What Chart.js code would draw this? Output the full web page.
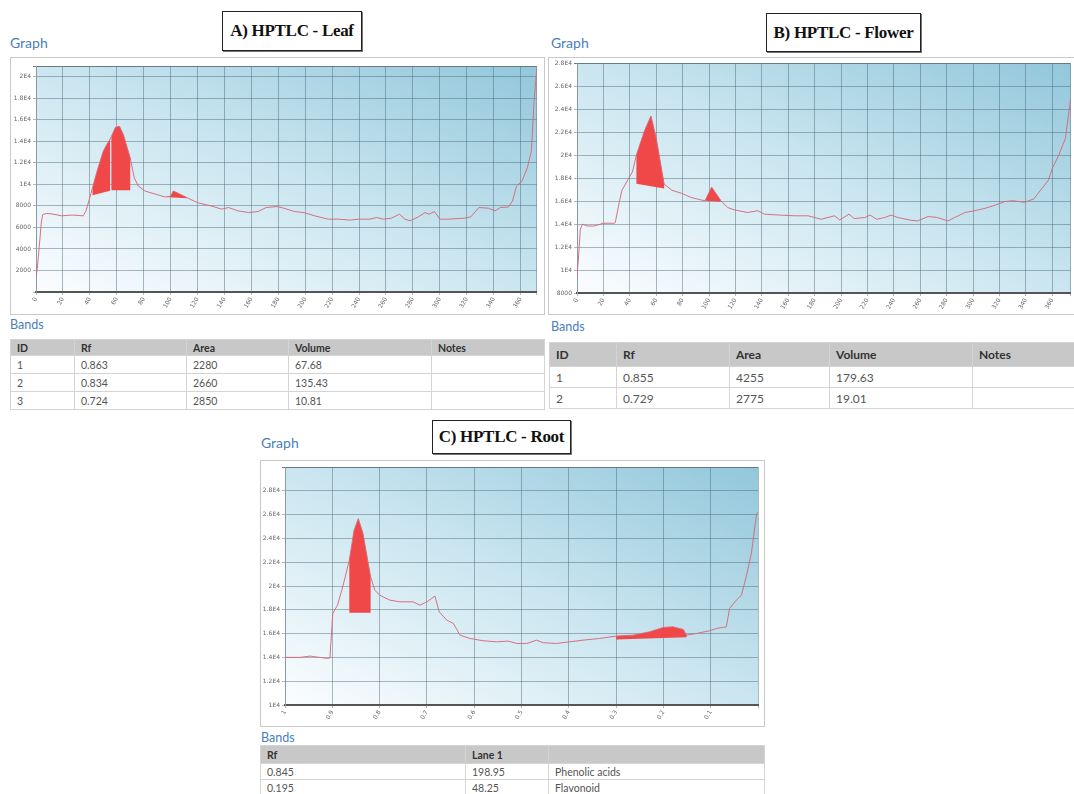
<!DOCTYPE html>
<html>
<head>
<meta charset="utf-8">
<script src="https://cdn.jsdelivr.net/npm/chart.js@4.4.0/dist/chart.umd.min.js"></script>
<style>
  html, body { margin: 0; padding: 0; background: #fff; }
  body { width: 1074px; height: 794px; overflow: hidden; position: relative; font-family: Lato, 'Open Sans', sans-serif; }
  .title { position: absolute; box-sizing: border-box; border: 1px solid #222; box-shadow: 1px 1px 0 #777;
    background: #fff; font-family: 'Liberation Serif', serif; font-weight: bold; font-size: 17px; color: #111;
    display: flex; align-items: center; justify-content: center; letter-spacing: -0.3px; }
  .lbl { position: absolute; color: #4a7ebb; font-size: 14px; }
  .lbl.small { font-size: 12.5px; }
  .box { position: absolute; box-sizing: border-box; border: 1px solid #c9c9c9; background: #fff; }
  table { position: absolute; border-collapse: collapse; table-layout: fixed; font-size: 10.5px; color: #555; }
  th { background: #c8c8c8; color: #333; text-align: left; font-weight: bold; }
  td, th { border: 1px solid #d4d4d4; padding: 0 6px; white-space: nowrap; overflow: hidden; }
</style>
</head>
<body>

<div class="title" style="left:222px;top:11px;width:140px;height:40px">A) HPTLC - Leaf</div>
<div class="title" style="left:766px;top:13px;width:155px;height:39px">B) HPTLC - Flower</div>
<div class="title" style="left:432px;top:420px;width:139px;height:34px">C) HPTLC - Root</div>

<div class="lbl" style="left:10px;top:34px">Graph</div>
<div class="lbl" style="left:551px;top:34px">Graph</div>
<div class="lbl" style="left:261px;top:434px">Graph</div>

<div class="box" style="left:10px;top:57px;width:535px;height:258px"><canvas id="leaf"></canvas></div>
<div class="box" style="left:548px;top:57px;width:530px;height:258px;border-right:none"><canvas id="flower"></canvas></div>
<div class="box" style="left:260px;top:460px;width:505px;height:267px"><canvas id="root"></canvas></div>

<div class="lbl small" style="left:10px;top:317px">Bands</div>
<div class="lbl small" style="left:551px;top:319px">Bands</div>
<div class="lbl small" style="left:261px;top:730px">Bands</div>

<table id="leafTable" style="left:10px;top:339px;width:535px"></table>
<table id="flowerTable" style="left:549px;top:342px;width:530px;font-size:12px"></table>
<table id="rootTable" style="left:260px;top:745px;width:505px"></table>

<script>
// ---- Leaf (x = position, y = intensity)
const leafX = [0, 1, 4, 5, 8, 12, 19, 27, 35, 37, 40, 42, 46, 50, 53, 55, 56, 59, 62, 65, 68, 70, 73, 76, 81, 89, 96, 100, 102, 106, 112, 120, 130, 138, 143, 150, 158, 165, 171, 179, 184, 192, 199, 207, 217, 225, 233, 240, 248, 253, 258, 264, 270, 274, 278, 284, 289, 292, 296, 300, 307, 318, 323, 329, 336, 341, 345, 351, 354, 357, 361, 365, 368, 370, 372];
const leafY = [1400, 2200, 6500, 7200, 7300, 7250, 7080, 7150, 7080, 7500, 8770, 9700, 11500, 13080, 13800, 14200, 14450, 15300, 15400, 14600, 13300, 12460, 10600, 9850, 9380, 9080, 8830, 8900, 9380, 9150, 8770, 8300, 8000, 7700, 7850, 7540, 7380, 7480, 7850, 7940, 7790, 7480, 7380, 7080, 6770, 6770, 6680, 6770, 6770, 6920, 6770, 6860, 7230, 6770, 6620, 6980, 7380, 7230, 7480, 6770, 6770, 6860, 6980, 7850, 7790, 7540, 7850, 7900, 8460, 9850, 10300, 11540, 13080, 17700, 20770];
// bands: [from, to, baseline at from, baseline at to]
const leafBands = [[42, 55, 9000, 9400], [56, 70, 9450, 9450], [96, 112, 8830, 8700]];
const leafXTicks = [0, 20, 40, 60, 80, 100, 120, 140, 160, 180, 200, 220, 240, 260, 280, 300, 320, 340, 360];
const leafYTicks = [2000, 4000, 6000, 8000, 10000, 12000, 14000, 16000, 18000, 20000];
const leafRows = [['1', '0.863', '2280', '67.68', ''], ['2', '0.834', '2660', '135.43', ''], ['3', '0.724', '2850', '10.81', '']];

// ---- Flower
const flowerX = [0, 1, 2.5, 4, 8, 13, 20, 28, 29, 32, 34, 39, 42, 45, 51, 56, 60, 63, 66, 72, 79, 86, 94, 97, 102, 109, 114, 119, 129, 137, 142, 154, 165, 175, 180, 185, 195, 199, 206, 210, 218, 222, 227, 233, 238, 243, 253, 258, 266, 273, 281, 286, 294, 301, 309, 317, 324, 330, 339, 346, 352, 357, 360, 365, 370, 374];
const flowerY = [9600, 10800, 13550, 14000, 13840, 13840, 14080, 14080, 14140, 15900, 16940, 17970, 18560, 20040, 22100, 23430, 21500, 19500, 17500, 16950, 16700, 16350, 16110, 16050, 17230, 16050, 15460, 15250, 15020, 15170, 14870, 14790, 14730, 14730, 14580, 14430, 14730, 14370, 14870, 14490, 14580, 14790, 14430, 14580, 14790, 14580, 14340, 14280, 14670, 14580, 14280, 14580, 15020, 15170, 15380, 15670, 15970, 16050, 15900, 16200, 17090, 17820, 18860, 20040, 21510, 25000];
const flowerBands = [[45, 66, 17530, 17100], [97, 109, 16050, 15950]];
const flowerXTicks = leafXTicks;
const flowerYTicks = [8000, 10000, 12000, 14000, 16000, 18000, 20000, 22000, 24000, 26000, 28000];
const flowerRows = [['1', '0.855', '4255', '179.63', ''], ['2', '0.729', '2775', '19.01', '']];

// ---- Root (x = Rf, drawn from 1 down to 0)
const rootRf = [1.0, 0.968, 0.947, 0.912, 0.905, 0.899, 0.889, 0.877, 0.864, 0.854, 0.845, 0.835, 0.824, 0.819, 0.81, 0.8, 0.778, 0.757, 0.729, 0.715, 0.7, 0.69, 0.683, 0.674, 0.658, 0.644, 0.63, 0.609, 0.581, 0.553, 0.528, 0.51, 0.489, 0.468, 0.454, 0.426, 0.398, 0.37, 0.335, 0.3, 0.264, 0.229, 0.2, 0.18, 0.158, 0.151, 0.13, 0.102, 0.088, 0.067, 0.06, 0.046, 0.035, 0.025, 0.014, 0.003, 0];
const rootY = [14000, 14000, 14110, 13920, 13950, 17690, 18390, 20070, 22170, 24680, 25660, 24400, 21890, 20770, 19650, 19230, 18810, 18670, 18670, 18390, 18670, 18950, 19150, 17830, 17130, 16850, 15870, 15590, 15400, 15310, 15370, 15170, 15170, 15450, 15230, 15170, 15310, 15450, 15590, 15790, 15870, 16150, 16520, 16570, 16350, 15870, 16010, 16240, 16430, 16570, 18110, 18810, 19230, 20770, 22730, 26080, 26200];
const rootBands = [[0.864, 0.819, 17750, 17750], [0.3, 0.151, 15500, 15700]];
const rootXTicks = [1, 0.9, 0.8, 0.7, 0.6, 0.5, 0.4, 0.3, 0.2, 0.1];
const rootYTicks = [10000, 12000, 14000, 16000, 18000, 20000, 22000, 24000, 26000, 28000];
const rootHead = ['Rf', 'Lane 1', ''];
const rootRows = [['0.845', '198.95', 'Phenolic acids'], ['0.195', '48.25', 'Flavonoid']];

function fmtE(v) {
  return v >= 10000 ? (Math.round(v / 1000) / 10) + 'E4' : String(v);
}

function pick(list, v, fmt) {
  const hit = list.find(t => Math.abs(t - v) < 1e-6);
  return hit === undefined ? '' : fmt(hit);
}

// grid ticks = the labelled values plus both ends of the axis
function tickSet(min, max, labels) {
  const vals = [min, max];
  labels.forEach(v => { if (!vals.some(u => Math.abs(u - v) < 1e-6)) vals.push(v); });
  return vals.sort((a, b) => a - b).map(v => ({ value: v }));
}

function bandShape(xs, ys, band) {
  const [from, to, baseFrom, baseTo] = band;
  const lo = Math.min(from, to), hi = Math.max(from, to);
  const pts = [{ x: from, y: baseFrom }];
  xs.forEach((x, i) => { if (x >= lo && x <= hi) pts.push({ x, y: ys[i] }); });
  pts.push({ x: to, y: baseTo });
  return pts;
}

const plotBg = {
  id: 'plotBg',
  beforeDraw(chart) {
    const { ctx, chartArea: a } = chart;
    const w = a.width, h = a.height;
    const k = 2 / (1 / (w * w) + 1 / (h * h));
    const g = ctx.createLinearGradient(a.left, a.bottom, a.left + k / w, a.bottom - k / h);
    g.addColorStop(0, '#fbfdfe');
    g.addColorStop(0.5, '#cbe6f0');
    g.addColorStop(1, '#92c7db');
    ctx.save();
    ctx.fillStyle = g;
    ctx.fillRect(a.left, a.top, w, h);
    ctx.restore();
  }
};

const gridColor = 'rgba(70,100,115,0.45)';
const tickFont = { size: 6, family: "'DejaVu Sans', sans-serif" };

function drawTrace(id, xs, ys, bands, xa, ya, pad) {
  const datasets = [{
    data: xs.map((x, i) => ({ x, y: ys[i] })),
    borderColor: 'rgba(214,105,120,0.95)',
    borderWidth: 1,
    pointRadius: 0,
    fill: false,
    order: 0
  }];
  bands.forEach(b => datasets.push({
    data: bandShape(xs, ys, b),
    borderWidth: 0,
    borderColor: 'rgba(0,0,0,0)',
    backgroundColor: '#f04848',
    pointRadius: 0,
    fill: 'shape',
    order: 1
  }));

  new Chart(document.getElementById(id), {
    type: 'line',
    data: { datasets },
    options: {
      responsive: true,
      maintainAspectRatio: false,
      animation: false,
      layout: { padding: { top: pad.top, right: pad.right, left: 0, bottom: 0 } },
      plugins: { legend: { display: false }, tooltip: { enabled: false } },
      scales: {
        x: {
          type: 'linear', min: xa.min, max: xa.max, reverse: !!xa.reverse,
          afterBuildTicks: s => { s.ticks = tickSet(xa.min, xa.max, xa.labels); },
          ticks: {
            autoSkip: false, minRotation: 60, maxRotation: 60,
            font: tickFont, color: '#666', padding: 1,
            callback: v => pick(xa.labels, v, String)
          },
          grid: { color: gridColor, tickLength: 3 },
          border: { color: '#555', width: 2 },
          afterFit: s => { s.height = pad.xh; }
        },
        y: {
          min: ya.min, max: ya.max,
          afterBuildTicks: s => { s.ticks = tickSet(ya.min, ya.max, ya.labels); },
          ticks: {
            autoSkip: false, font: tickFont, color: '#666', padding: 2,
            callback: v => pick(ya.labels, v, fmtE)
          },
          grid: {
            color: c => (c.tick && c.tick.value === ya.max) ? '#6a7a84' : gridColor,
            tickLength: 3
          },
          border: { color: '#8a9aa4' },
          afterFit: s => { s.width = pad.yw; }
        }
      }
    },
    plugins: [plotBg]
  });
}

function fillTable(id, head, rows, widths, headH, rowH) {
  const t = document.getElementById(id);
  let html = '<colgroup>' + widths.map(w => w ? '<col style="width:' + w + 'px">' : '<col>').join('') + '</colgroup>';
  html += '<tr style="height:' + headH + 'px">' + head.map(h => '<th>' + h + '</th>').join('') + '</tr>';
  rows.forEach(r => { html += '<tr style="height:' + rowH + 'px">' + r.map(c => '<td>' + c + '</td>').join('') + '</tr>'; });
  t.innerHTML = html;
}

drawTrace('leaf', leafX, leafY, leafBands,
  { min: 0, max: 372, labels: leafXTicks },
  { min: 0, max: 21000, labels: leafYTicks },
  { top: 8, right: 4, yw: 25, xh: 22 });

drawTrace('flower', flowerX, flowerY, flowerBands,
  { min: 0, max: 374, labels: flowerXTicks },
  { min: 8000, max: 28000, labels: flowerYTicks },
  { top: 5, right: 3, yw: 28, xh: 21 });

drawTrace('root', rootRf, rootY, rootBands,
  { min: 0, max: 1, reverse: true, labels: rootXTicks },
  { min: 10000, max: 30000, labels: rootYTicks },
  { top: 6, right: 6, yw: 24, xh: 21 });

const bandHead = ['ID', 'Rf', 'Area', 'Volume', 'Notes'];
fillTable('leafTable', bandHead, leafRows, [64, 112, 102, 143, 0], 16, 18);
fillTable('flowerTable', bandHead, flowerRows, [67, 113, 100, 143, 0], 24, 21);
fillTable('rootTable', rootHead, rootRows, [205, 83, 0], 18, 16);
</script>
</body>
</html>
